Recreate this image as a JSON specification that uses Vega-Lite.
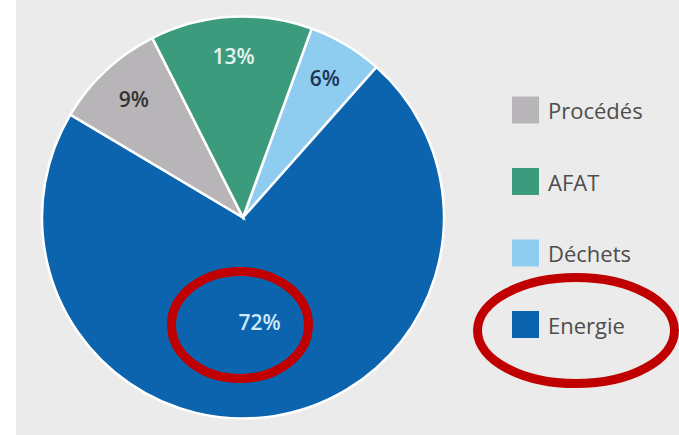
{
  "$schema": "https://vega.github.io/schema/vega-lite/v6.json",
  "background": "white",
  "padding": {"left": 16, "top": 0, "right": 0, "bottom": 0},
  "config": {"view": {"fill": "#ebebeb", "stroke": null}},
  "spacing": 0,
  "bounds": "flush",
  "datasets": {
    "emissions": [
      {"categorie": "Déchets", "part": 6, "label": "6%", "ordre": 1},
      {"categorie": "Energie", "part": 72, "label": "72%", "ordre": 2},
      {"categorie": "Procédés", "part": 9, "label": "9%", "ordre": 3},
      {"categorie": "AFAT", "part": 13, "label": "13%", "ordre": 4}
    ]
  },
  "resolve": {"scale": {"color": "shared"}},
  "hconcat": [
    {
      "width": 454,
      "height": 435,
      "view": {"fill": "#ebebeb", "stroke": null},
      "data": {"name": "emissions"},
      "layer": [
        {
          "mark": {"type": "arc", "outerRadius": 201, "stroke": "white", "strokeWidth": 2.5},
          "encoding": {
            "theta": {"field": "part", "type": "quantitative", "stack": true, "scale": {"range": [0.349, 6.632]}},
            "order": {"field": "ordre", "type": "quantitative"},
            "color": {
              "field": "categorie", "type": "nominal",
              "scale": {"domain": ["Procédés", "AFAT", "Déchets", "Energie"], "range": ["#b8b5b8", "#3c9b7d", "#8ecdf0", "#0b64ad"]},
              "legend": null
            }
          }
        },
        {
          "mark": {"type": "text", "radius": 160, "font": "Open Sans", "fontSize": 21, "fontWeight": 600},
          "encoding": {
            "theta": {"field": "part", "type": "quantitative", "stack": true},
            "order": {"field": "ordre", "type": "quantitative"},
            "detail": {"field": "categorie", "type": "nominal"},
            "text": {"field": "label"},
            "color": {
              "condition": [
                {"test": "datum.categorie === 'Procédés'", "value": "#333333"},
                {"test": "datum.categorie === 'AFAT'", "value": "#e6f4ef"}
              ],
              "value": "#1b3453"
            },
            "opacity": {"condition": {"test": "datum.categorie === 'Energie'", "value": 0}, "value": 1}
          }
        },
        {
          "mark": {"type": "text", "radius": 108, "font": "Open Sans", "fontSize": 21, "fontWeight": 600, "color": "#cfe9f9"},
          "encoding": {
            "theta": {"field": "part", "type": "quantitative", "stack": true},
            "order": {"field": "ordre", "type": "quantitative"},
            "detail": {"field": "categorie", "type": "nominal"},
            "text": {"field": "label"},
            "opacity": {"condition": {"test": "datum.categorie === 'Energie'", "value": 1}, "value": 0}
          }
        },
        {
          "transform": [{"filter": "datum.categorie === 'Energie'"}],
          "mark": {
            "type": "point",
            "shape": "M -1.43 2.15 C -1.43 1.559 -0.8166 1.08 -0.06 1.08 C 0.6966 1.08 1.31 1.559 1.31 2.15 C 1.31 2.741 0.6966 3.22 -0.06 3.22 C -0.8166 3.22 -1.43 2.741 -1.43 2.15 Z",
            "size": 10000, "filled": false, "stroke": "#c00000", "strokeWidth": 9, "opacity": 1
          }
        }
      ]
    },
    {
      "width": 209,
      "height": 435,
      "data": {"name": "emissions"},
      "encoding": {
        "y": {
          "field": "categorie", "type": "nominal",
          "scale": {"type": "point", "domain": ["Procédés", "AFAT", "Déchets", "Energie"], "range": [110, 324.5], "padding": 0},
          "axis": null
        }
      },
      "layer": [
        {
          "mark": {"type": "point", "shape": "square", "filled": true, "size": 729, "opacity": 1, "xOffset": -49, "strokeWidth": 0},
          "encoding": {
            "color": {
              "field": "categorie", "type": "nominal",
              "scale": {"domain": ["Procédés", "AFAT", "Déchets", "Energie"], "range": ["#b8b5b8", "#3c9b7d", "#8ecdf0", "#0b64ad"]},
              "legend": null
            }
          }
        },
        {
          "mark": {"type": "text", "align": "left", "dx": -26.5, "dy": 2, "font": "Open Sans", "fontSize": 22, "color": "#4d4d4d"},
          "encoding": {"text": {"field": "categorie"}}
        },
        {
          "transform": [{"filter": "datum.categorie === 'Energie'"}],
          "mark": {
            "type": "point",
            "shape": "M -1.94 0.12 C -1.94 -0.465 -1.058 -0.94 0.03 -0.94 C 1.118 -0.94 2 -0.465 2 0.12 C 2 0.705 1.118 1.18 0.03 1.18 C -1.058 1.18 -1.94 0.705 -1.94 0.12 Z",
            "size": 10000, "filled": false, "stroke": "#c00000", "strokeWidth": 9, "opacity": 1
          }
        }
      ]
    }
  ]
}
